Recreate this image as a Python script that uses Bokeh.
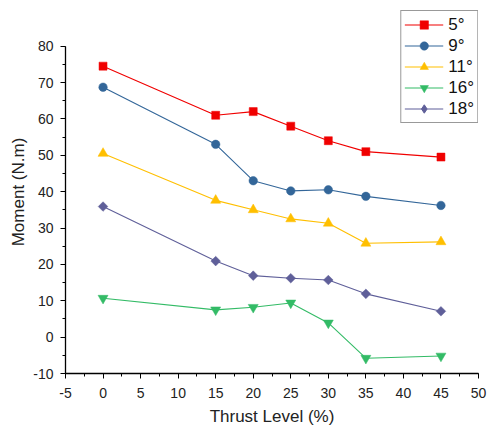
from bokeh.plotting import figure
from bokeh.models import (Range1d, SingleIntervalTicker, Legend, LegendItem, ColumnDataSource,
                          CustomJSTickFormatter)
from bokeh.embed import file_html
from bokeh.resources import INLINE
import math

thrust = [0, 15, 20, 25, 30, 35, 45]
m5 = [74.5, 61.0, 62.0, 58.0, 54.0, 51.0, 49.5]
m9 = [68.7, 53.0, 43.0, 40.2, 40.5, 38.7, 36.2]
m11 = [50.5, 37.6, 35.0, 32.5, 31.3, 25.8, 26.2]
m16 = [10.7, 7.5, 8.2, 9.4, 3.9, -5.8, -5.2]
m18 = [35.9, 20.9, 16.9, 16.2, 15.7, 11.9, 7.1]
labels = ["5°", "9°", "11°", "16°", "18°"]
colors = ["#F00000", "#336699", "#FFBF00", "#33BB66", "#5F5F99"]

FONT = "Liberation Sans"

p = figure(width=488, height=428, output_backend="svg", toolbar_location=None,
           x_range=Range1d(-5, 50), y_range=Range1d(-10, 89.8),
           min_border_left=65, min_border_right=10, min_border_top=10, min_border_bottom=54)
p.outline_line_color = None
p.xgrid.visible = False
p.ygrid.visible = False
p.background_fill_color = "white"
p.border_fill_color = "white"

for ax, interval in ((p.xaxis[0], 5), (p.yaxis[0], 10)):
    ax.ticker = SingleIntervalTicker(interval=interval, num_minor_ticks=2)
    ax.formatter = CustomJSTickFormatter(code="return tick.toString();")
    ax.axis_line_color = "black"
    ax.axis_line_width = 1.3
    ax.major_tick_out = 5
    ax.major_tick_in = 0
    ax.minor_tick_out = 3
    ax.minor_tick_in = 0
    ax.major_tick_line_color = "black"
    ax.minor_tick_line_color = "black"
    ax.major_label_text_font = FONT
    ax.major_label_text_font_size = "14px"
    ax.major_label_text_color = "#222222"
    ax.axis_label_text_font = FONT
    ax.axis_label_text_font_size = "17px"
    ax.axis_label_text_font_style = "normal"
    ax.axis_label_text_color = "#222222"

p.yaxis[0].bounds = (-10, 80)
p.yaxis[0].major_label_standoff = 7
p.yaxis[0].axis_label_standoff = 2
p.xaxis[0].major_label_standoff = 9
p.xaxis[0].axis_label_standoff = 6
p.xaxis[0].axis_label = "Thrust Level (%)"
p.yaxis[0].axis_label = "Moment (N.m)"

series = [m5, m9, m11, m16, m18]
markers = ["square", "circle", "triangle", "inverted_triangle", "diamond"]
sizes = [8, 8.5, 10, 10, 6.8]

items = []
for vals, lab, col, mk, sz in zip(series, labels, colors, markers, sizes):
    src = ColumnDataSource(dict(x=thrust, y=vals))
    lr = p.line("x", "y", source=src, line_color=col, line_width=1.1)
    if mk == "diamond":
        # legend-only diamond hidden beneath the rotated squares
        leg_r = p.scatter("x", "y", source=src, marker="diamond", size=1,
                          fill_color=col, line_color=col)
        p.scatter("x", "y", source=src, marker="square", size=sz, angle=math.pi / 4,
                  fill_color=col, line_color=col, line_width=0.5)
    else:
        leg_r = p.scatter("x", "y", source=src, marker=mk, size=sz,
                          fill_color=col, line_color=col, line_width=0.5)
    items.append(LegendItem(label=lab, renderers=[lr, leg_r]))

legend = Legend(items=items, location="top_right", margin=0, padding=3, spacing=0,
                glyph_width=39, glyph_height=21, label_height=21, label_standoff=5,
                label_text_font=FONT, label_text_font_size="17px", label_text_color="#111111",
                border_line_color="#333333", border_line_width=1.2,
                background_fill_color="white", background_fill_alpha=1.0)
p.add_layout(legend)

open("out.html", "w").write(file_html(p, INLINE))
